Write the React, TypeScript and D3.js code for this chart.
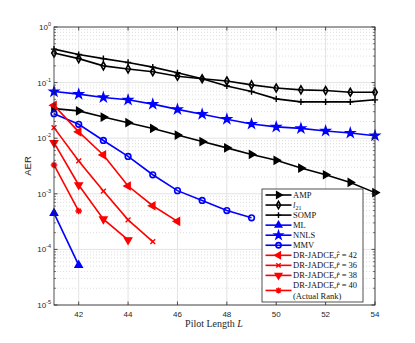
import React from 'react';
import * as d3 from 'd3';

const pilotLengths = [41, 42, 43, 44, 45, 46, 47, 48, 49, 50, 51, 52, 53, 54];
const ampAer = [0.034, 0.031, 0.024, 0.019, 0.015, 0.0114, 0.0087, 0.0067, 0.0051, 0.004, 0.0029, 0.0022, 0.0016, 0.00105];
const l21Aer = [0.34, 0.27, 0.2, 0.176, 0.157, 0.13, 0.117, 0.107, 0.091, 0.08, 0.074, 0.072, 0.067, 0.067];
const sompAer = [0.4, 0.32, 0.27, 0.23, 0.19, 0.15, 0.117, 0.087, 0.069, 0.051, 0.045, 0.045, 0.045, 0.049];
const mlAer = [0.00045, 0.000052];
const nnlsAer = [0.069, 0.062, 0.054, 0.049, 0.041, 0.033, 0.027, 0.022, 0.018, 0.016, 0.015, 0.0135, 0.0124, 0.0111];
const mmvAer = [0.0276, 0.0178, 0.0091, 0.0047, 0.0022, 0.00114, 0.00076, 0.0005, 0.00037];
const dr42Aer = [0.039, 0.013, 0.005, 0.00138, 0.00061, 0.00032];
const dr36Aer = [0.0155, 0.0039, 0.00112, 0.00034, 0.000138];
const dr38Aer = [0.0083, 0.00144, 0.00035, 0.000148];
const dr40Aer = [0.0033, 0.00049];

const xTicks = [42, 44, 46, 48, 50, 52, 54];
const yDecades = [0, -1, -2, -3, -4, -5];

type Series = { name: string; values: number[]; color: string; marker: string; fill: boolean };

const series: Series[] = [
  { name: 'AMP', values: ampAer, color: '#000', marker: 'right', fill: true },
  { name: 'l21', values: l21Aer, color: '#000', marker: 'diamond', fill: false },
  { name: 'SOMP', values: sompAer, color: '#000', marker: 'plus', fill: false },
  { name: 'ML', values: mlAer, color: '#0000ff', marker: 'up', fill: true },
  { name: 'NNLS', values: nnlsAer, color: '#0000ff', marker: 'star', fill: true },
  { name: 'MMV', values: mmvAer, color: '#0000ff', marker: 'circle', fill: false },
  { name: 'DR-JADCE,r = 42', values: dr42Aer, color: '#ff0000', marker: 'left', fill: true },
  { name: 'DR-JADCE,r = 36', values: dr36Aer, color: '#ff0000', marker: 'x', fill: false },
  { name: 'DR-JADCE,r = 38', values: dr38Aer, color: '#ff0000', marker: 'down', fill: true },
  { name: 'DR-JADCE,r = 40', values: dr40Aer, color: '#ff0000', marker: 'asterisk', fill: false },
];

const left = 54, right = 375, top = 27, bottom = 305;
const x = d3.scaleLinear().domain([41, 54]).range([left, right]);
const y = d3.scaleLog().domain([1e-5, 1]).range([bottom, top]);

const markerPath = (m: string, s: number) => {
  const tri = d3.symbol().type(d3.symbolTriangle).size(s * 1.9)();
  switch (m) {
    case 'right': return { d: tri, rot: 90 };
    case 'left': return { d: tri, rot: -90 };
    case 'down': return { d: tri, rot: 180 };
    case 'up': return { d: tri, rot: 0 };
    case 'diamond': return { d: d3.symbol().type(d3.symbolDiamond).size(s * 1.5)(), rot: 0 };
    case 'star': return { d: d3.symbol().type(d3.symbolStar).size(s * 2.0)(), rot: 0 };
    case 'circle': return { d: d3.symbol().type(d3.symbolCircle).size(s * 2.1)(), rot: 0 };
    case 'plus': { const r = Math.sqrt(s) * 0.9; return { d: `M${-r},0H${r}M0,${-r}V${r}`, rot: 0 }; }
    case 'x': { const r = Math.sqrt(s) * 0.7; return { d: `M${-r},${-r}L${r},${r}M${-r},${r}L${r},${-r}`, rot: 0 }; }
    default: {
      const r = Math.sqrt(s) * 0.95, q = r * 0.7;
      return { d: `M${-r},0H${r}M0,${-r}V${r}M${-q},${-q}L${q},${q}M${-q},${q}L${q},${-q}`, rot: 0 };
    }
  }
};

const Marker = ({ cx, cy, s, sr }: { cx: number; cy: number; s: number; sr: Series }) => {
  const { d, rot } = markerPath(sr.marker, s);
  return (
    <path
      d={d as string}
      transform={`translate(${cx},${cy}) rotate(${rot})`}
      fill={sr.fill ? sr.color : 'none'}
      stroke={sr.color}
      strokeWidth={sr.marker === 'circle' || sr.marker === 'diamond' ? 1.6 : 1.4}
    />
  );
};

const LegendLabel = ({ name, tx, ty }: { name: string; tx: number; ty: number }) => {
  const f = { fontFamily: 'Liberation Serif, serif', fontSize: 8.5, fill: '#111' };
  if (name === 'l21') {
    return (
      <text x={tx} y={ty} {...f}>
        <tspan fontStyle="italic">l</tspan>
        <tspan fontSize={6} dy={2}>21</tspan>
      </text>
    );
  }
  if (name.startsWith('DR')) {
    const num = name.split('= ')[1];
    return (
      <text x={tx} y={ty} {...f}>
        DR-JADCE,<tspan fontStyle="italic">r&#x0302;</tspan> = {num}
      </text>
    );
  }
  return <text x={tx} y={ty} {...f}>{name}</text>;
};

export default function App() {
  const line = d3.line<number>().x((_, i) => x(pilotLengths[i])).y((v) => y(v));
  const minor: number[] = [];
  yDecades.slice(1).forEach((e) => {
    for (let k = 2; k <= 9; k++) minor.push(k * Math.pow(10, e));
  });
  const tickColor = '#262626';
  const lx0 = 262, lx1 = 363, ly0 = 189, ly1 = 302;

  return (
    <svg width={415} height={343} style={{ position: 'absolute', left: 0, top: 0, background: '#fff' }}>
      <rect x={left} y={top} width={right - left} height={bottom - top} fill="#fff" />
      {minor.map((v) => (
        <line key={'m' + v} x1={left} x2={right} y1={y(v)} y2={y(v)} stroke="#c8c8c8" strokeWidth={0.6} strokeDasharray="1,2" />
      ))}
      {yDecades.map((e) => (
        <line key={'g' + e} x1={left} x2={right} y1={y(Math.pow(10, e))} y2={y(Math.pow(10, e))} stroke="#e3e3e3" strokeWidth={1} />
      ))}
      {xTicks.map((t) => (
        <line key={'gx' + t} x1={x(t)} x2={x(t)} y1={top} y2={bottom} stroke="#e3e3e3" strokeWidth={1} />
      ))}

      {series.map((sr) => (
        <g key={sr.name}>
          <path d={line(sr.values) as string} fill="none" stroke={sr.color} strokeWidth={1.6} />
          {sr.values.map((v, i) => (
            <Marker key={i} cx={x(pilotLengths[i])} cy={y(v)} s={12} sr={sr} />
          ))}
        </g>
      ))}

      {/* axes box and ticks */}
      <rect x={left} y={top} width={right - left} height={bottom - top} fill="none" stroke={tickColor} strokeWidth={0.8} />
      {xTicks.map((t) => (
        <g key={'xt' + t}>
          <line x1={x(t)} x2={x(t)} y1={bottom} y2={bottom - 3.5} stroke={tickColor} strokeWidth={0.8} />
          <line x1={x(t)} x2={x(t)} y1={top} y2={top + 3.5} stroke={tickColor} strokeWidth={0.8} />
          <text x={x(t)} y={317} textAnchor="middle" fontFamily="Liberation Sans, Arial, sans-serif" fontSize={8} fill={tickColor}>{t}</text>
        </g>
      ))}
      {minor.map((v) => (
        <g key={'mt' + v}>
          <line x1={left} x2={left + 2} y1={y(v)} y2={y(v)} stroke={tickColor} strokeWidth={0.6} />
          <line x1={right} x2={right - 2} y1={y(v)} y2={y(v)} stroke={tickColor} strokeWidth={0.6} />
        </g>
      ))}
      {yDecades.map((e) => (
        <g key={'yt' + e}>
          <line x1={left} x2={left + 3.5} y1={y(Math.pow(10, e))} y2={y(Math.pow(10, e))} stroke={tickColor} strokeWidth={0.8} />
          <line x1={right} x2={right - 3.5} y1={y(Math.pow(10, e))} y2={y(Math.pow(10, e))} stroke={tickColor} strokeWidth={0.8} />
          <text x={left - 3} y={y(Math.pow(10, e)) + 3} textAnchor="end" fontFamily="Liberation Sans, Arial, sans-serif" fontSize={8} fill={tickColor}>
            10<tspan fontSize={5.5} dy={-4}>{e}</tspan>
          </text>
        </g>
      ))}
      <text transform={`translate(31,166) rotate(-90)`} textAnchor="middle" fontFamily="Liberation Sans, Arial, sans-serif" fontSize={9.5} fill={tickColor}>AER</text>
      <text x={214} y={327} textAnchor="middle" fontFamily="Liberation Serif, serif" fontSize={10} fill={tickColor}>
        Pilot Length <tspan fontStyle="italic">L</tspan>
      </text>

      {/* legend */}
      <rect x={lx0} y={ly0} width={lx1 - lx0} height={ly1 - ly0} fill="#fff" stroke={tickColor} strokeWidth={0.8} />
      {series.map((sr, i) => {
        const ly = 195 + i * 10.05 + (i === 9 ? 5 : 0);
        return (
          <g key={'lg' + sr.name}>
            <line x1={265.5} x2={291.5} y1={ly} y2={ly} stroke={sr.color} strokeWidth={1.6} />
            <Marker cx={278.5} cy={ly} s={10} sr={sr} />
            <LegendLabel name={sr.name} tx={293} ty={(i === 9 ? ly - 5 : ly) + 3} />
          </g>
        );
      })}
      <text x={293} y={298.5} fontFamily="Liberation Serif, serif" fontSize={8.5} fill="#111">(Actual Rank)</text>
    </svg>
  );
}
